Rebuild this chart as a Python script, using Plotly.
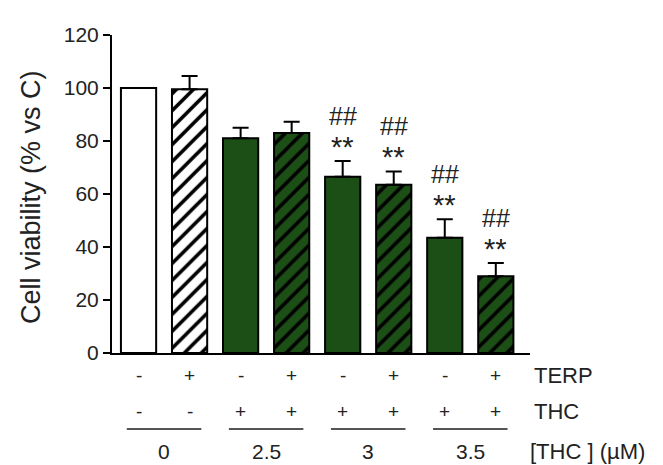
import plotly.graph_objects as go

# ---- data ----
bar_index = [0, 1, 2, 3, 4, 5, 6, 7]
viability = [100, 99.5, 81, 83, 66.5, 63.5, 43.5, 29]
sem = [0, 5, 4, 4.3, 6, 5, 7, 5]
terp = ["-", "+", "-", "+", "-", "+", "-", "+"]
thc = ["-", "-", "+", "+", "+", "+", "+", "+"]
stars = ["", "", "", "", "**", "**", "**", "**"]
hashes = ["", "", "", "", "##", "##", "##", "##"]
doses = ["0", "2.5", "3", "3.5"]
dose_bars = [(0, 1), (2, 3), (4, 5), (6, 7)]
row_labels = ["TERP", "THC", "[THC ] (µM)"]
y_title = "Cell viability (% vs C)"

GREEN = "#1c4f16"
FONT = "Liberation Sans, Arial, sans-serif"
TXT = "#222222"

def fill_of(i):
    return "white" if thc[i] == "-" else GREEN

fig = go.Figure()
# one trace per bar style (fill colour x hatching)
styles = {}
for i in bar_index:
    key = (fill_of(i), terp[i] == "+")
    styles.setdefault(key, []).append(i)

for (col, hatched), idx in styles.items():
    marker = dict(color=col, line=dict(color="black", width=2))
    if hatched:
        marker["pattern"] = dict(shape="/", fgcolor="black", bgcolor=col,
                                 fgopacity=1, size=12, solidity=0.3,
                                 fillmode="replace")
    fig.add_trace(go.Bar(
        x=[bar_index[i] for i in idx], y=[viability[i] for i in idx],
        width=0.69, marker=marker,
        error_y=dict(type="data", array=[sem[i] for i in idx],
                     arrayminus=[0] * len(idx), symmetric=False,
                     color="black", thickness=2, width=8, visible=True),
        showlegend=False,
    ))

ann = []
for i, (v, e) in enumerate(zip(viability, sem)):
    if stars[i]:
        ann.append(dict(x=i, y=v + e, xref="x", yref="y", text=stars[i],
                        showarrow=False, yshift=14, yanchor="middle",
                        font=dict(size=29, family=FONT, color=TXT)))
    if hashes[i]:
        ann.append(dict(x=i, y=v + e, xref="x", yref="y", text=hashes[i],
                        showarrow=False, yshift=45, yanchor="middle",
                        font=dict(size=25, family=FONT, color=TXT)))

def py(pix):
    return (353 - pix) / 318.0

def px(pix):
    return (pix - 112) / 418.0

for i in bar_index:
    ann.append(dict(x=i, y=py(375), xref="x", yref="paper", text=terp[i],
                    showarrow=False, yanchor="middle",
                    font=dict(size=19, family=FONT, color=TXT)))
    ann.append(dict(x=i, y=py(411), xref="x", yref="paper", text=thc[i],
                    showarrow=False, yanchor="middle",
                    font=dict(size=19, family=FONT, color=TXT)))

shapes = []
for d, (a, b) in zip(doses, dose_bars):
    c = (a + b) / 2
    ann.append(dict(x=c, y=py(451), xref="x", yref="paper", text=d,
                    showarrow=False, yanchor="middle",
                    font=dict(size=21, family=FONT, color=TXT)))
    shapes.append(dict(type="line", xref="x", yref="paper",
                       x0=c - 0.73, x1=c + 0.73, y0=py(429), y1=py(429),
                       line=dict(color="#555555", width=2)))

for label, yy, xx in zip(row_labels, [375, 411, 451], [532, 532, 528]):
    ann.append(dict(x=px(xx), y=py(yy), xref="paper", yref="paper",
                    text=label, showarrow=False,
                    xanchor="left", yanchor="middle",
                    font=dict(size=22, family=FONT, color=TXT)))

# y-axis title as rotated annotation for exact placement
ann.append(dict(x=px(31), y=py(197), xref="paper", yref="paper",
                text=y_title, textangle=-90, showarrow=False,
                xanchor="center", yanchor="middle",
                font=dict(size=27, family=FONT, color=TXT)))

# page body has an 8px margin, so the figure is 8px smaller
fig.update_layout(
    width=655, height=457,
    margin=dict(l=104, r=133, t=27, b=112),
    paper_bgcolor="white", plot_bgcolor="white",
    barmode="overlay",
    annotations=ann, shapes=shapes,
    xaxis=dict(range=[-0.52, 7.67], showticklabels=False, ticks="",
               showgrid=False, zeroline=False, showline=True,
               linecolor="black", linewidth=2),
    yaxis=dict(range=[0, 120], tickvals=[0, 20, 40, 60, 80, 100, 120],
               ticks="outside", ticklen=7, tickwidth=2, tickcolor="black",
               showgrid=False, zeroline=False, showline=True,
               linecolor="black", linewidth=2,
               tickfont=dict(size=21, family=FONT, color=TXT)),
    font=dict(family=FONT),
)

fig.write_html("out.html")
